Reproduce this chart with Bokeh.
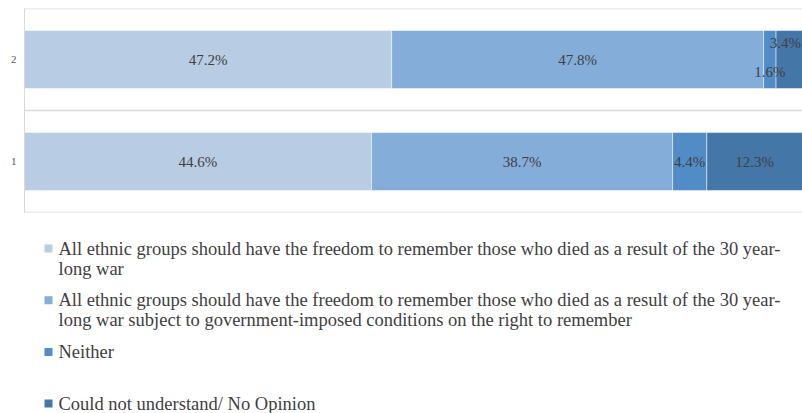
from bokeh.plotting import figure
from bokeh.layouts import column
from bokeh.models import FactorRange, Span, Range1d, ColumnDataSource
from bokeh.core.properties import value
from bokeh.embed import file_html
from bokeh.resources import INLINE

categories = ["1", "2"]
series_names = [
    "All ethnic groups should have the freedom to remember those who died as a result of the 30 year-\nlong war",
    "All ethnic groups should have the freedom to remember those who died as a result of the 30 year-\nlong war subject to government-imposed conditions on the right to remember",
    "Neither",
    "Could not understand/ No Opinion",
]
freedom = [44.6, 47.2]
conditional = [38.7, 47.8]
neither = [4.4, 1.6]
no_opinion = [12.3, 3.4]
series_values = [freedom, conditional, neither, no_opinion]
colors = ["#B8CCE4", "#84ADDA", "#518CC6", "#4576A8"]

FONT = "Liberation Serif"

p = figure(width=802, height=222, y_range=FactorRange(factors=categories),
           x_range=Range1d(0, 100), output_backend="svg", toolbar_location=None,
           min_border_left=24, min_border_right=0, min_border_top=8, min_border_bottom=10)
p.outline_line_color = None
p.xaxis.visible = False
p.xgrid.visible = False
p.ygrid.visible = False
p.yaxis.axis_line_color = "#D9D9D9"
p.yaxis.major_tick_line_color = None
p.yaxis.minor_tick_line_color = None
p.yaxis.major_tick_out = 0
p.yaxis.major_tick_in = 0
p.yaxis.major_label_standoff = 8
p.yaxis.major_label_text_font = FONT
p.yaxis.major_label_text_font_size = "11px"
p.yaxis.major_label_text_color = "#595959"

for loc in [0.0, 1.0, 2.0]:
    p.add_layout(Span(location=loc, dimension="width", line_color="#D9D9D9", line_width=1.5))

lefts = [0.0] * len(categories)
lx, ly, lt, lyo, lxo = [], [], [], [], []
for s, vals in enumerate(series_values):
    rights = [l + v for l, v in zip(lefts, vals)]
    src = ColumnDataSource(dict(y=categories, left=lefts, right=rights))
    p.hbar(y="y", left="left", right="right", height=0.57, source=src,
           fill_color=colors[s], line_color="white", line_width=0.5)
    for i, c in enumerate(categories):
        lx.append((lefts[i] + rights[i]) / 2)
        ly.append(c)
        lt.append(f"{vals[i]:.1f}%")
        if vals[i] < 4:
            lyo.append(12 if s == 2 else -17)
            lxo.append(0 if s == 2 else -4)
        else:
            lyo.append(0)
            lxo.append(0)
    lefts = rights

p.text(x=lx, y=ly, text=lt, y_offset=lyo, x_offset=lxo, text_align="center", text_baseline="middle",
       text_font=value(FONT), text_font_size="15px", text_color="#404040")

# legend figure (its frame is aligned with the chart frame, which starts 24px from the left)
lg = figure(width=802, height=191, x_range=Range1d(24, 802), y_range=Range1d(191, 0),
            output_backend="svg", toolbar_location=None,
            min_border_left=24, min_border_right=0, min_border_top=0, min_border_bottom=0)
lg.outline_line_color = None
lg.axis.visible = False
lg.grid.visible = False

slot = 51.7
top0 = 26
mx, my, tx, ty, tt = [], [], [], [], []
for i, name in enumerate(series_names):
    y0 = top0 + i * slot
    mx.append(48)
    my.append(y0)
    for j, line in enumerate(name.split("\n")):
        tx.append(58)
        ty.append(y0 + j * 20)
        tt.append(line)
lg.rect(x=mx, y=my, width=8, height=8, fill_color=colors, line_color=None)
lg.text(x=tx, y=ty, text=tt, text_align="left", text_baseline="middle",
        text_font=value(FONT), text_font_size="18.5px", text_color="#404040")

layout = column(p, lg, spacing=0)
open("out.html", "w").write(file_html(layout, INLINE))
